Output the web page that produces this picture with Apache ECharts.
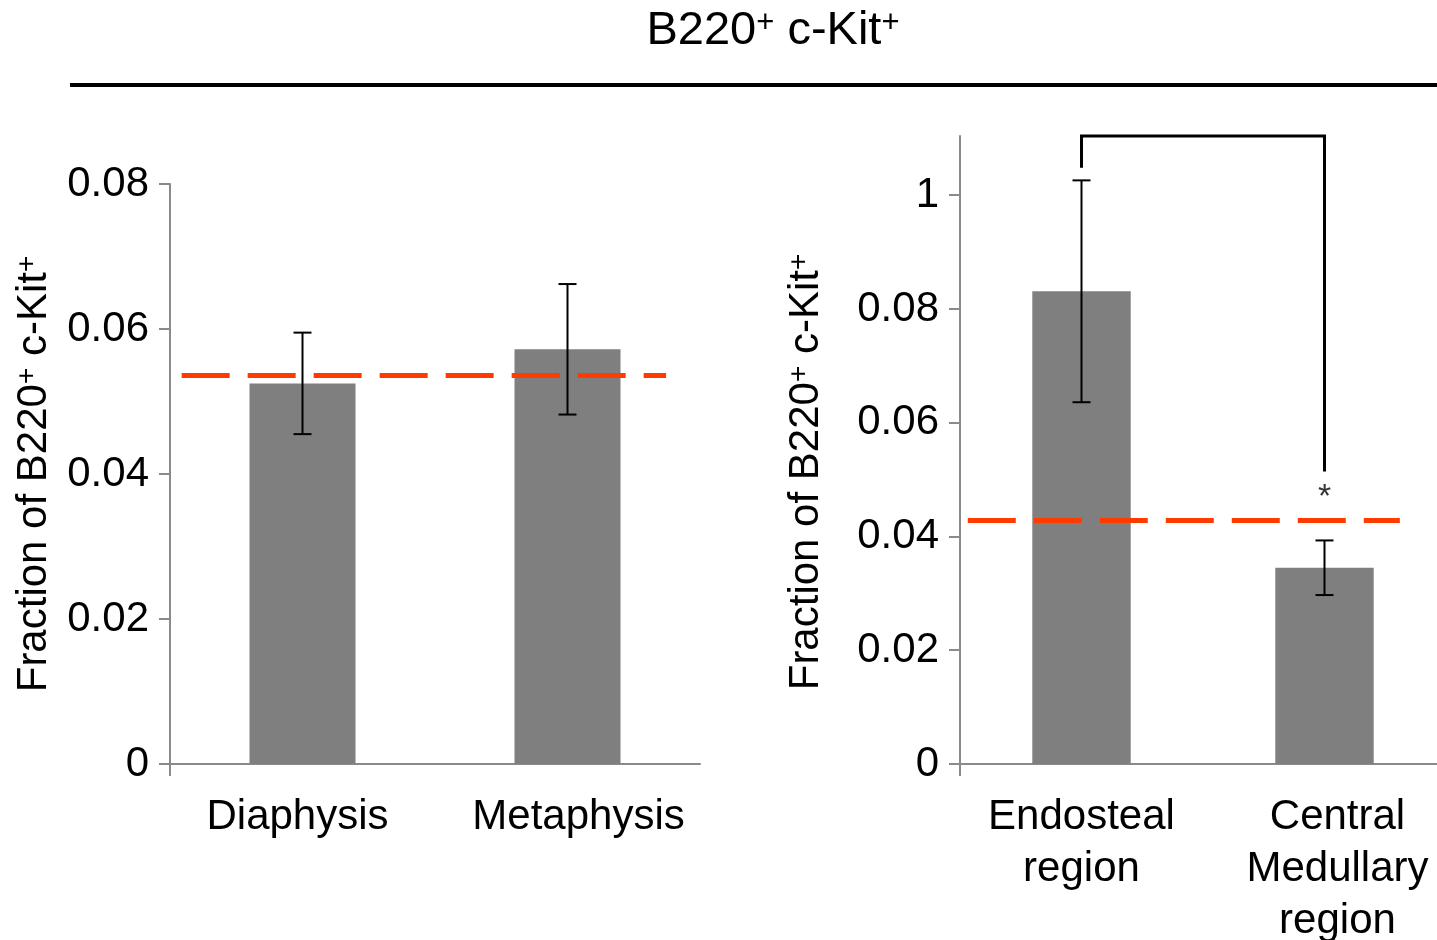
<!DOCTYPE html>
<html>
<head>
<meta charset="utf-8">
<title>B220+ c-Kit+</title>
<script src="https://cdn.jsdelivr.net/npm/echarts@6.0.0/dist/echarts.min.js"></script>
<style>
  html, body { margin: 0; padding: 0; background: #fff; }
  #main { width: 1437px; height: 940px; }
</style>
</head>
<body>
<div id="main"></div>
<script>
// left panel: bone region
var leftCategories = ['Diaphysis', 'Metaphysis'];
var leftMeans = [0.0525, 0.0572];
var leftErrors = [0.0070, 0.0090];
var leftReference = 0.0536;
var leftRefSpan = [0.022, 0.936];   // fraction of the panel width the dashed line covers
var leftTicks = [0, 0.02, 0.04, 0.06, 0.08];
var leftTickLabels = ['0', '0.02', '0.04', '0.06', '0.08'];

// right panel: marrow region
var rightCategories = ['Endosteal\nregion', 'Central\nMedullary\nregion'];
var rightMeans = [0.0831, 0.0345];
var rightErrors = [0.0195, 0.0048];
var rightReference = 0.0428;
var rightRefSpan = [0.016, 0.905];
var rightMax = 0.1104;
var rightTicks = [0, 0.02, 0.04, 0.06, 0.08, 0.1];
var rightTickLabels = ['0', '0.02', '0.04', '0.06', '0.08', '1'];   // "1" as printed in the figure

// significance bracket between the two right bars
var sigBracket = [[0, 0.1048], [0, 0.1104], [1, 0.1104], [1, 0.0514]];
var sigMark = [[1, 0.0469]];
var sigText = '*';

var FONT = '"Liberation Sans", Arial, sans-serif';
var GREY = '#7f7f7f';
var AXIS = '#8a8a8a';
var RED = '#ff3b00';

// small horizontal nudges of the category labels, as set in the figure
var leftLabelShift = [-5, 11];
var rightLabelShift = [0, 13];

var yName = '{a|Fraction of B220}{s|+}{a| c-Kit}{s|+}';

var supRich = function(size, supSize) {
    return {
        a: { fontSize: size, fontFamily: FONT, color: '#000' },
        s: { fontSize: supSize, fontFamily: FONT, color: '#000', verticalAlign: 'top', lineHeight: supSize }
    };
};

var tickFormatter = function(values, labels) {
    return function(v) {
        for (var i = 0; i < values.length; i++) {
            if (Math.abs(values[i] - v) < 1e-9) return labels[i];
        }
        return '';
    };
};

var errorItem = function(params, api) {
    var x = api.value(0);
    var m = api.value(1);
    var e = api.value(2);
    var top = api.coord([x, m + e]);
    var bot = api.coord([x, m - e]);
    var cap = 9;
    var st = { stroke: '#000', lineWidth: 2 };
    return {
        type: 'group',
        children: [
            { type: 'line', shape: { x1: top[0], y1: top[1], x2: bot[0], y2: bot[1] }, style: st },
            { type: 'line', shape: { x1: top[0] - cap, y1: top[1], x2: top[0] + cap, y2: top[1] }, style: st },
            { type: 'line', shape: { x1: bot[0] - cap, y1: bot[1], x2: bot[0] + cap, y2: bot[1] }, style: st }
        ]
    };
};

var errData = function(means, errs) {
    return means.map(function(m, i) { return [i, m, errs[i]]; });
};

var yAxisBase = function(gridIndex, max, ticks, labels, gap, pad) {
    return {
        type: 'value',
        gridIndex: gridIndex,
        min: 0,
        max: max,
        name: yName,
        nameLocation: 'middle',
        nameGap: gap,
        nameRotate: 90,
        nameTextStyle: { fontSize: 42, fontFamily: FONT, color: '#000', padding: pad, rich: supRich(42, 28) },
        axisLine: { show: true, lineStyle: { color: AXIS, width: 2 } },
        axisTick: { show: true, length: 11, lineStyle: { color: AXIS, width: 2 }, customValues: ticks },
        axisLabel: {
            customValues: ticks,
            formatter: tickFormatter(ticks, labels),
            fontSize: 42, fontFamily: FONT, color: '#000', margin: 21
        },
        splitLine: { show: false }
    };
};

var xAxisBase = function(gridIndex, cats, shifts) {
    return {
        type: 'category',
        gridIndex: gridIndex,
        position: 'bottom',
        data: cats.map(function(c, i) {
            var s = shifts[i];
            return { value: c, textStyle: { padding: s > 0 ? [0, 0, 0, 2 * s] : [0, -2 * s, 0, 0] } };
        }),
        axisLine: { lineStyle: { color: AXIS, width: 2 } },
        axisTick: { show: false },
        axisLabel: { interval: 0, fontSize: 42, lineHeight: 52, fontFamily: FONT, color: '#000', margin: 27 }
    };
};

// value axis 0..1 used for the dashed reference line and the corner tick below the origin
var hiddenX = function(gridIndex) {
    return {
        type: 'value', gridIndex: gridIndex, min: 0, max: 1,
        position: 'bottom',
        axisLine: { show: false },
        axisLabel: { show: false },
        splitLine: { show: false },
        axisTick: { show: true, customValues: [0], length: 12, lineStyle: { color: AXIS, width: 2 } }
    };
};

var myChart = echarts.init(document.getElementById('main'));

var option = {
    animation: false,
    backgroundColor: '#fff',
    textStyle: { fontFamily: FONT },
    graphic: [
        {
            type: 'text', x: 773, y: 31,
            style: {
                text: '{a|B220}{s|+}{a| c-Kit}{s|+}',
                align: 'center', verticalAlign: 'middle',
                rich: supRich(47, 31)
            }
        },
        {
            type: 'line',
            shape: { x1: 70, y1: 85, x2: 1437, y2: 85 },
            style: { stroke: '#000', lineWidth: 4 }
        }
    ],
    grid: [
        { left: 170, top: 184, width: 530, height: 580, outerBoundsMode: 'none', containLabel: false },
        { left: 960, top: 136, width: 486, height: 628, outerBoundsMode: 'none', containLabel: false }
    ],
    xAxis: [
        xAxisBase(0, leftCategories, leftLabelShift),
        xAxisBase(1, rightCategories, rightLabelShift),
        hiddenX(0),
        hiddenX(1)
    ],
    yAxis: [
        yAxisBase(0, 0.08, leftTicks, leftTickLabels, 115, [0, 0, 0, 0]),
        yAxisBase(1, rightMax, rightTicks, rightTickLabels, 133, [0, 44, 0, 0])
    ],
    series: [
        {
            type: 'bar', xAxisIndex: 0, yAxisIndex: 0,
            data: leftMeans, barWidth: '40%',
            itemStyle: { color: GREY }
        },
        {
            type: 'bar', xAxisIndex: 1, yAxisIndex: 1,
            data: rightMeans, barWidth: '40.5%',
            itemStyle: { color: GREY }
        },
        {
            type: 'line', xAxisIndex: 2, yAxisIndex: 0, z: 3,
            data: [[leftRefSpan[0], leftReference], [leftRefSpan[1], leftReference]],
            symbol: 'none',
            lineStyle: { color: RED, width: 5, type: [48, 18] }
        },
        {
            type: 'line', xAxisIndex: 3, yAxisIndex: 1, z: 3,
            data: [[rightRefSpan[0], rightReference], [rightRefSpan[1], rightReference]],
            symbol: 'none',
            lineStyle: { color: RED, width: 5, type: [48, 18] }
        },
        {
            type: 'custom', xAxisIndex: 0, yAxisIndex: 0, z: 4,
            renderItem: errorItem,
            encode: { x: 0, y: 1 },
            data: errData(leftMeans, leftErrors)
        },
        {
            type: 'custom', xAxisIndex: 1, yAxisIndex: 1, z: 4,
            renderItem: errorItem,
            encode: { x: 0, y: 1 },
            data: errData(rightMeans, rightErrors)
        },
        {
            // significance bracket
            type: 'line', xAxisIndex: 1, yAxisIndex: 1, z: 5,
            data: sigBracket, symbol: 'none', clip: false,
            lineStyle: { color: '#000', width: 3, join: 'miter' }
        },
        {
            type: 'scatter', xAxisIndex: 1, yAxisIndex: 1, z: 5,
            data: sigMark, symbolSize: 0,
            label: { show: true, position: 'inside', formatter: sigText, fontSize: 34, fontFamily: FONT, color: '#000' }
        }
    ]
};

myChart.setOption(option);
</script>
</body>
</html>
